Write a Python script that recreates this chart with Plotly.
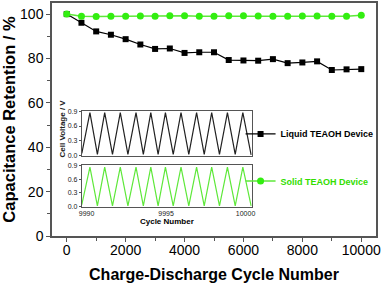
import plotly.graph_objects as go

cycles = [0, 500, 1000, 1500, 2000, 2500, 3000, 3500, 4000, 4500, 5000,
          5500, 6000, 6500, 7000, 7500, 8000, 8500, 9000, 9500, 10000]
liquid = [100, 96.1, 92.2, 90.7, 88.7, 86.3, 84.3, 84.5, 82.5, 82.8, 82.8,
          79.3, 79.1, 79.0, 79.7, 77.9, 78.2, 78.7, 74.8, 75.1, 75.2]
solid = [100, 99.0, 98.9, 99.0, 99.0, 99.1, 99.0, 99.2, 99.2, 99.0, 99.0,
         99.2, 99.2, 99.1, 99.0, 99.0, 99.1, 99.1, 99.0, 99.0, 99.5]
x_ticks = [0, 2000, 4000, 6000, 8000, 10000]
y_ticks = [0, 20, 40, 60, 80, 100]

inset_cycle = [9989.7, 9990.21, 9990.68, 9991.14, 9991.63, 9992.12, 9992.6, 9993.11,
               9993.57, 9994.04, 9994.5, 9994.96, 9995.45, 9995.94, 9996.43, 9996.92,
               9997.4, 9997.87, 9998.36, 9998.86, 9999.35, 9999.83, 10000.35]
liquid_v = [0.05, 0.87, 0.03, 0.87, 0.03, 0.87, 0.03, 0.87, 0.03, 0.87, 0.03, 0.87,
            0.03, 0.87, 0.03, 0.87, 0.03, 0.87, 0.03, 0.87, 0.03, 0.87, 0.02]
solid_v = [0.05, 0.86, 0.02, 0.86, 0.02, 0.86, 0.02, 0.86, 0.02, 0.86, 0.02, 0.86,
           0.02, 0.86, 0.02, 0.86, 0.02, 0.86, 0.02, 0.86, 0.02, 0.86, 0.02]
inset_x_ticks = [9990, 9995, 10000]
inset_y_ticks = [0, 0.3, 0.6, 0.9]

GREEN = "#33ee11"
GREEN_LINE = "#5ee83a"
AXC = "#555555"
FONT = "Arial, Liberation Sans, sans-serif"

fig = go.Figure()
fig.add_trace(go.Scatter(x=cycles, y=liquid, mode="lines+markers", name="<b>Liquid TEAOH Device</b>",
                         line=dict(color="black", width=1.2),
                         marker=dict(symbol="square", size=6, color="black"),
                         legend="legend"))
fig.add_trace(go.Scatter(x=cycles, y=solid, mode="lines+markers", name="<b>Solid TEAOH Device</b>",
                         line=dict(color=GREEN_LINE, width=1.5),
                         marker=dict(symbol="circle", size=7, color=GREEN),
                         legend="legend2"))
fig.add_trace(go.Scatter(x=inset_cycle, y=liquid_v, mode="lines", showlegend=False,
                         line=dict(color="#222222", width=1.2), xaxis="x2", yaxis="y2"))
fig.add_trace(go.Scatter(x=inset_cycle, y=solid_v, mode="lines", showlegend=False,
                         line=dict(color=GREEN_LINE, width=1.2), xaxis="x3", yaxis="y3"))

ix0, ix1 = 0.092, 0.617
inset_x = dict(range=[9989.7, 10000.4], showline=True, linecolor=AXC, linewidth=1,
               mirror=True, ticks="", showgrid=False, zeroline=False,
               tickvals=inset_x_ticks, ticktext=[str(v) for v in inset_x_ticks],
               tickfont=dict(size=7, family=FONT, color="#222"))
inset_y = dict(range=[0, 0.9], showline=True, linecolor=AXC, linewidth=1, mirror=True,
               ticks="outside", ticklen=2, tickcolor=AXC, showgrid=False, zeroline=False,
               tickvals=inset_y_ticks, ticktext=["%.1f" % v for v in inset_y_ticks],
               tickfont=dict(size=7, family=FONT, color="#222"))

fig.update_layout(
    width=381, height=283,
    margin=dict(l=52, r=5, t=3, b=47, autoexpand=False),
    paper_bgcolor="white", plot_bgcolor="white",
    font=dict(family=FONT, color="black"),
    xaxis=dict(range=[-500, 10500], showline=True, linecolor=AXC, linewidth=1.5, mirror=True,
               ticks="outside", ticklen=4, tickcolor=AXC, showgrid=False, zeroline=False,
               tickvals=x_ticks, ticktext=[str(v) for v in x_ticks], tickfont=dict(size=14),
               ticklabelstandoff=-4, automargin=False,
               minor=dict(dtick=1000, ticks="outside", ticklen=3, tickcolor=AXC),
               title=dict(text="<b>Charge-Discharge Cycle Number</b>", font=dict(size=16), standoff=16)),
    yaxis=dict(range=[0, 105], showline=True, linecolor=AXC, linewidth=1.5, mirror=True,
               ticks="outside", ticklen=4, tickcolor=AXC, showgrid=False, zeroline=False,
               tickvals=y_ticks, ticktext=[str(v) for v in y_ticks], tickfont=dict(size=14),
               automargin=False,
               minor=dict(dtick=10, ticks="outside", ticklen=3, tickcolor=AXC),
               title=dict(text="<b>Capacitance Retention / %</b>", font=dict(size=16.5), standoff=3)),
    xaxis2=dict(inset_x, domain=[ix0, ix1], anchor="y2", showticklabels=False),
    yaxis2=dict(inset_y, domain=[0.344, 0.536], anchor="x2"),
    xaxis3=dict(inset_x, domain=[ix0, ix1], anchor="y3",
                title=dict(text="<b>Cycle Number</b>", font=dict(size=8), standoff=2)),
    yaxis3=dict(inset_y, domain=[0.125, 0.304], anchor="x3"),
    legend=dict(x=0.582, y=0.438, xanchor="left", yanchor="middle", bgcolor="rgba(0,0,0,0)",
                font=dict(size=9, color="black", family=FONT), itemwidth=30,
                tracegroupgap=0),
    legend2=dict(x=0.582, y=0.236, xanchor="left", yanchor="middle", bgcolor="rgba(0,0,0,0)",
                 font=dict(size=9, color="#33dd00", family=FONT), itemwidth=30),
    annotations=[dict(text="<b>Cell Voltage / V</b>", xref="paper", yref="paper",
                      x=0.012, y=0.33, textangle=-90, showarrow=False,
                      font=dict(size=8, family=FONT, color="#222"))],
)

fig.write_html("out.html", config={"displayModeBar": False},
               post_script="document.body.style.margin='0';document.body.style.padding='0';")
